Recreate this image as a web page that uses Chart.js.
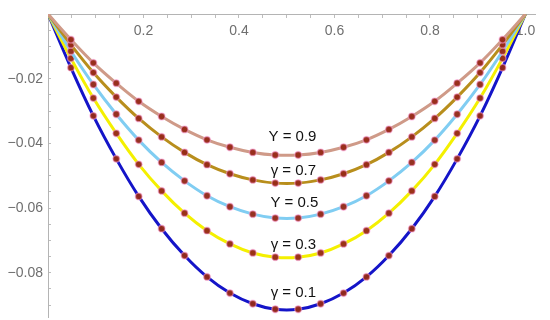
<!DOCTYPE html>
<html>
<head>
<meta charset="utf-8">
<script src="https://cdn.jsdelivr.net/npm/chart.js@4/dist/chart.umd.min.js"></script>
<style>
  html, body { margin: 0; padding: 0; background: #fff; }
  #wrap { width: 550px; height: 320px; }
</style>
</head>
<body>
<div id="wrap"><canvas id="profileChart" width="550" height="320"></canvas></div>
<script>
"use strict";

// x positions of the sampled points (k/21)
const xValues = [0, 0.048, 0.095, 0.143, 0.190, 0.238, 0.286, 0.333, 0.381, 0.429, 0.476,
  0.524, 0.571, 0.619, 0.667, 0.714, 0.762, 0.810, 0.857, 0.905, 0.952, 1];

const gamma09 = [0, -0.0079, -0.0151, -0.0214, -0.0270, -0.0317, -0.0357, -0.0389, -0.0412, -0.0428, -0.0436,
  -0.0436, -0.0428, -0.0412, -0.0389, -0.0357, -0.0317, -0.0270, -0.0214, -0.0151, -0.0079, 0];
const gamma07 = [0, -0.0095, -0.0181, -0.0257, -0.0323, -0.0380, -0.0428, -0.0466, -0.0494, -0.0513, -0.0523,
  -0.0523, -0.0513, -0.0494, -0.0466, -0.0428, -0.0380, -0.0323, -0.0257, -0.0181, -0.0095, 0];
const gamma05 = [0, -0.0115, -0.0218, -0.0310, -0.0390, -0.0459, -0.0516, -0.0562, -0.0596, -0.0619, -0.0631,
  -0.0631, -0.0619, -0.0596, -0.0562, -0.0516, -0.0459, -0.0390, -0.0310, -0.0218, -0.0115, 0];
const gamma03 = [0, -0.0137, -0.0260, -0.0369, -0.0465, -0.0547, -0.0616, -0.0670, -0.0711, -0.0739, -0.0752,
  -0.0752, -0.0739, -0.0711, -0.0670, -0.0616, -0.0547, -0.0465, -0.0369, -0.0260, -0.0137, 0];
const gamma01 = [0, -0.0166, -0.0315, -0.0448, -0.0564, -0.0664, -0.0747, -0.0813, -0.0863, -0.0896, -0.0913,
  -0.0913, -0.0896, -0.0863, -0.0813, -0.0747, -0.0664, -0.0564, -0.0448, -0.0315, -0.0166, 0];

const curveLabels = ["Y = 0.9", "γ = 0.7", "Y = 0.5", "γ = 0.3", "γ = 0.1"];
const labelX = [0.512, 0.514, 0.516, 0.514, 0.514];
const labelY = [-0.0380, -0.0484, -0.0583, -0.0713, -0.0862];

const xTickLabels = [0.2, 0.4, 0.6, 0.8, 1.0];
const yTickLabels = [-0.02, -0.04, -0.06, -0.08];

function toPoints(ys) {
  return xValues.map((x, i) => ({ x: x, y: ys[i] }));
}

function makeSet(ys, color) {
  return {
    data: toPoints(ys),
    borderColor: color,
    borderWidth: 3,
    showLine: true,
    tension: 0.4,
    pointRadius: (c) => (c.dataIndex === 0 || c.dataIndex === xValues.length - 1) ? 0 : 3.4,
    pointBackgroundColor: "rgba(150,40,22,0.95)",
    pointBorderColor: "rgba(255,165,225,0.5)",
    pointBorderWidth: 1.5,
    pointHoverRadius: 3.4,
  };
}

function isNear(v, list) {
  return list.some((t) => Math.abs(v - t) < 1e-6);
}

function keepSteps(step) {
  return function (scale) {
    scale.ticks = scale.ticks.filter((t) => Math.abs(t.value / step - Math.round(t.value / step)) < 1e-6);
  };
}

// the axes should not push the plot area around
function noPadding(scale) {
  scale.paddingTop = 0;
  scale.paddingBottom = 0;
  scale.paddingLeft = 0;
  scale.paddingRight = 0;
}

const curveText = {
  id: "curveText",
  afterDatasetsDraw(chart) {
    const ctx = chart.ctx;
    const xs = chart.scales.x;
    const ys = chart.scales.y;
    ctx.save();
    ctx.font = "15px 'Liberation Sans', Arial, sans-serif";
    ctx.fillStyle = "#111";
    ctx.textAlign = "center";
    ctx.textBaseline = "middle";
    curveLabels.forEach((txt, i) => {
      ctx.fillText(txt, xs.getPixelForValue(labelX[i]), ys.getPixelForValue(labelY[i]));
    });
    ctx.restore();
  },
};

const ctx = document.getElementById("profileChart").getContext("2d");

new Chart(ctx, {
  type: "scatter",
  data: {
    datasets: [
      makeSet(gamma09, "#cf9a88"),
      makeSet(gamma07, "#b88e1c"),
      makeSet(gamma05, "#80cdf2"),
      makeSet(gamma03, "#f4f000"),
      makeSet(gamma01, "#1414c8"),
    ],
  },
  options: {
    responsive: false,
    animation: false,
    layout: { padding: { top: 14, right: 15, bottom: 3, left: 0 } },
    plugins: {
      legend: { display: false },
      tooltip: { enabled: false },
    },
    scales: {
      x: {
        type: "linear",
        position: { y: 0 },
        min: 0,
        max: 1.02,
        afterBuildTicks: keepSteps(0.05),
        afterFit: (scale) => { scale.height = 0; noPadding(scale); },
        border: { display: true, color: "#b4b4b4", width: 1 },
        grid: { drawOnChartArea: false, drawTicks: true, tickLength: 3, tickColor: "#bdbdbd" },
        ticks: {
          stepSize: 0.05,
          includeBounds: false,
          autoSkip: false,
          maxRotation: 0,
          padding: 6,
          color: "#6f6f6f",
          font: { family: "'Liberation Sans', Arial, sans-serif", size: 14 },
          callback: (v) => isNear(v, xTickLabels) ? v.toFixed(1) : "",
        },
      },
      y: {
        type: "linear",
        position: "left",
        min: -0.0937,
        max: 0,
        afterBuildTicks: keepSteps(0.005),
        afterFit: (scale) => { scale.width = 48; noPadding(scale); },
        border: { display: true, color: "#b4b4b4", width: 1 },
        grid: { drawOnChartArea: false, drawTicks: true, tickLength: -3, tickColor: "#bdbdbd" },
        ticks: {
          stepSize: 0.005,
          includeBounds: false,
          autoSkip: false,
          padding: 8,
          color: "#6f6f6f",
          font: { family: "'Liberation Sans', Arial, sans-serif", size: 14 },
          callback: (v) => isNear(v, yTickLabels) ? "−" + Math.abs(v).toFixed(2) : "",
        },
      },
    },
  },
  plugins: [curveText],
});
</script>
</body>
</html>
